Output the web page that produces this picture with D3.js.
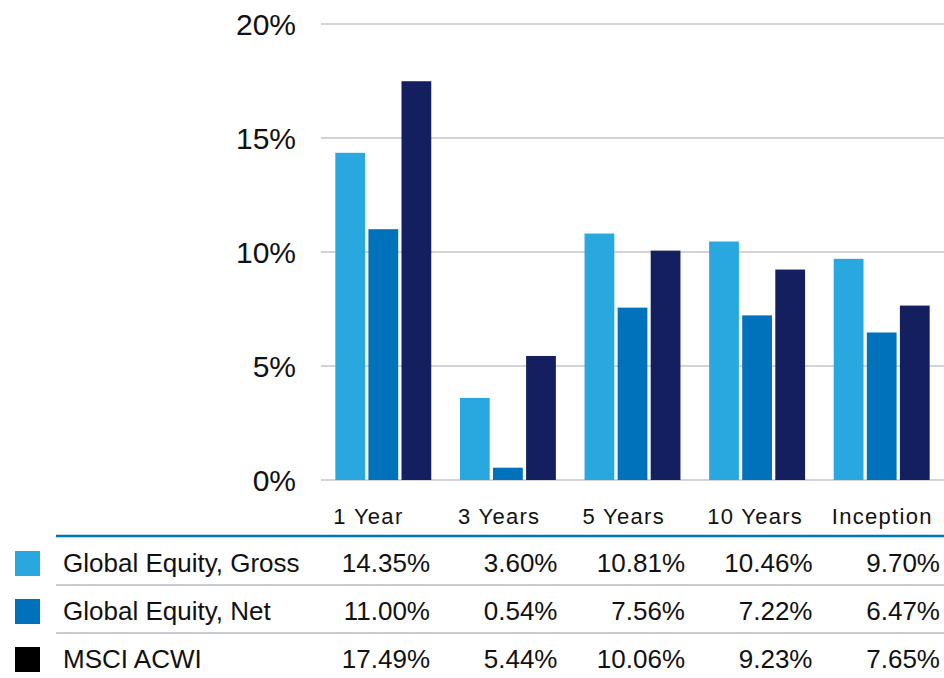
<!DOCTYPE html>
<html>
<head>
<meta charset="utf-8">
<script src="https://cdn.jsdelivr.net/npm/d3@7"></script>
<style>
  body { margin: 0; background: #fff; }
  text { font-family: "Liberation Sans", Arial, sans-serif; fill: #111; }
</style>
</head>
<body>
<script>
// data
var categories = ["1 Year", "3 Years", "5 Years", "10 Years", "Inception"];
var seriesNames = ["Global Equity, Gross", "Global Equity, Net", "MSCI ACWI"];
var gross = [14.35, 3.60, 10.81, 10.46, 9.70];
var net = [11.00, 0.54, 7.56, 7.22, 6.47];
var acwi = [17.49, 5.44, 10.06, 9.23, 7.65];
var yTicks = [0, 5, 10, 15, 20];

var barColors = ["#29a8e0", "#0071bb", "#131f5e"];
var legendColors = ["#29a8e0", "#0071bb", "#000000"];
var seriesValues = [gross, net, acwi];

var svg = d3.select("body").append("svg")
    .attr("width", 944)
    .attr("height", 678);

var y = d3.scaleLinear().domain([0, 20]).range([480, 24]);

var x0 = d3.scaleBand()
    .domain(categories)
    .range([321, 944])
    .paddingInner(0.23)
    .paddingOuter(0.115);

var x1 = d3.scaleBand()
    .domain(d3.range(seriesNames.length))
    .range([0, x0.bandwidth()])
    .paddingInner(0.1);

// table columns are a bit wider than the bar groups
var xt = d3.scaleBand()
    .domain(categories)
    .range([302.5, 940]);

// gridlines
svg.append("g").selectAll("line")
    .data(yTicks)
    .enter().append("line")
    .attr("x1", 321).attr("x2", 944)
    .attr("y1", d => y(d)).attr("y2", d => y(d))
    .attr("stroke", "#d0d3d8")
    .attr("stroke-width", 2);

// y labels
svg.append("g").selectAll("text")
    .data(yTicks)
    .enter().append("text")
    .attr("x", 296)
    .attr("y", d => y(d))
    .attr("dy", "0.36em")
    .attr("text-anchor", "end")
    .style("font-size", "30px")
    .text(d => d + "%");

// bars
var groups = svg.append("g").selectAll("g")
    .data(categories)
    .enter().append("g")
    .attr("transform", d => "translate(" + x0(d) + ",0)");

groups.selectAll("rect")
    .data((d, i) => seriesValues.map((s, j) => ({ s: j, v: s[i] })))
    .enter().append("rect")
    .attr("x", d => x1(d.s))
    .attr("width", x1.bandwidth())
    .attr("y", d => y(d.v))
    .attr("height", d => y(0) - y(d.v))
    .attr("fill", d => barColors[d.s]);

// category labels
svg.append("g").selectAll("text")
    .data(categories)
    .enter().append("text")
    .attr("x", d => x0(d) - 2)
    .attr("y", 524)
    .style("font-size", "22px")
    .style("letter-spacing", "1.3px")
    .text(d => d);

// table
var rowY = [563, 611, 659];

svg.append("line")
    .attr("x1", 56).attr("x2", 944)
    .attr("y1", 536).attr("y2", 536)
    .attr("stroke", "#0071bb")
    .attr("stroke-width", 2.5);

svg.append("g").selectAll("line")
    .data([585, 633])
    .enter().append("line")
    .attr("x1", 56).attr("x2", 944)
    .attr("y1", d => d).attr("y2", d => d)
    .attr("stroke", "#c8cbd0")
    .attr("stroke-width", 2);

var rows = svg.append("g").selectAll("g")
    .data(seriesNames)
    .enter().append("g")
    .attr("transform", (d, i) => "translate(0," + rowY[i] + ")");

rows.append("rect")
    .attr("x", 15).attr("y", -12)
    .attr("width", 25).attr("height", 25)
    .attr("fill", (d, i) => legendColors[i]);

rows.append("text")
    .attr("x", 63)
    .attr("dy", "0.36em")
    .style("font-size", "26px")
    .text(d => d);

rows.each(function(name, i) {
    d3.select(this).selectAll("text.val")
        .data(seriesValues[i])
        .enter().append("text")
        .attr("class", "val")
        .attr("x", (v, k) => xt(categories[k]) + xt.bandwidth())
        .attr("dy", "0.36em")
        .attr("text-anchor", "end")
        .style("font-size", "26px")
        .text(v => v.toFixed(2) + "%");
});
</script>
</body>
</html>
